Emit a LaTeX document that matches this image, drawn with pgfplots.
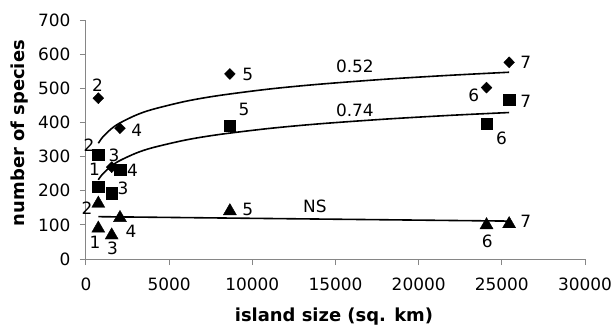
\documentclass[border=0pt]{standalone}
\usepackage{fontspec}
\setmainfont{DejaVu Sans}
\usepackage{pgfplots}
\pgfplotsset{compat=1.18}
\definecolor{axisgray}{RGB}{134,134,134}
\tikzset{lbl/.style={font=\fontsize{17}{20}\selectfont, anchor=center, inner sep=0pt}}
\begin{document}
\begin{tikzpicture}
\path[use as bounding box] (-86bp,-67bp) rectangle (530bp,259bp);
\begin{axis}[
  at={(0,0)}, anchor=south west,
  scale only axis, width=499bp, height=239bp,
  xmin=0, xmax=30000, ymin=0, ymax=700,
  xtick={0,5000,10000,15000,20000,25000,30000},
  ytick={0,100,200,300,400,500,600,700},
  scaled x ticks=false, scaled y ticks=false,
  /pgf/number format/assume math mode=true,
  /pgf/number format/1000 sep={},
  axis x line*=bottom, axis y line*=left,
  axis line style={axisgray, line width=1bp, -},
  tick style={axisgray, line width=1bp},
  tick align=outside, major tick length=6bp,
  tick label style={font=\fontsize{17}{20}\selectfont, black},
  xticklabel style={yshift=-9bp},
  yticklabel style={xshift=-6bp},
  label style={font=\bfseries\fontsize{18}{21}\selectfont},
  xlabel={island size (sq. km)},
  ylabel={number of species},
  xlabel style={at={(axis description cs:0.497,-0.242)}, anchor=center},
  ylabel style={at={(axis description cs:-0.134,0.527)}, anchor=center},
  clip=false,
]
% trend lines
\addplot[black, line width=1.6bp, smooth, no marks] coordinates {
 (740,339) (1000,356.7) (1500,380.5) (2000,397.4) (3000,421.3) (4000,438.2)
 (6000,462) (8000,478.9) (11000,497.7) (14000,511.8) (18000,526.6) (22000,538.4) (25440,547)};
\addplot[black, line width=1.6bp, smooth, no marks] coordinates {
 (740,232) (1000,248.8) (1500,271.3) (2000,287.4) (3000,309.9) (4000,326)
 (6000,348.6) (8000,364.6) (11000,382.3) (14000,395.8) (18000,409.7) (22000,421) (25440,429)};
\addplot[black, line width=1.6bp, no marks] coordinates {(740,124) (25440,111)};
% data
\addplot[only marks, mark=diamond*, mark size=5.5bp, mark options={xscale=1.3, black, fill=black}] coordinates {
 (740,471) (1544,269) (2043,383) (8650,542) (24080,502) (25440,576)};
\addplot[only marks, mark=square*, mark size=5.8bp, mark options={black, fill=black}] coordinates {
 (740,305) (740,212) (1544,193) (2043,261) (8650,390) (24080,396) (25440,466)};
\addplot[only marks, mark=triangle*, mark size=7.5bp, mark options={yshift=-1.9bp, black, fill=black}] coordinates {
 (740,168) (740,95) (1544,75) (2043,126) (8650,146) (24080,105) (25440,108)};
% point labels
\node[lbl] at (axis cs:691,510) {2};
\node[lbl] at (axis cs:3047,378) {4};
\node[lbl] at (axis cs:180,334) {2};
\node[lbl] at (axis cs:1683,305) {3};
\node[lbl] at (axis cs:511,264) {1};
\node[lbl] at (axis cs:2795,259) {4};
\node[lbl] at (axis cs:2224,208) {3};
\node[lbl] at (axis cs:60,148) {2};
\node[lbl] at (axis cs:541,50) {1};
\node[lbl] at (axis cs:1593,31) {3};
\node[lbl] at (axis cs:2705,82) {4};
\node[lbl] at (axis cs:9718,541) {5};
\node[lbl] at (axis cs:9496,438) {5};
\node[lbl] at (axis cs:9718,146) {5};
\node[lbl] at (axis cs:26444,575) {7};
\node[lbl] at (axis cs:23319,480) {6};
\node[lbl] at (axis cs:26444,463) {7};
\node[lbl] at (axis cs:24984,354) {6};
\node[lbl] at (axis cs:24118,51) {6};
\node[lbl] at (axis cs:26444,109) {7};
% fit annotations
\node[lbl] at (axis cs:16167,563) {0.52};
\node[lbl] at (axis cs:16167,436) {0.74};
\node[lbl] at (axis cs:13763,153) {NS};
\end{axis}
\end{tikzpicture}
\end{document}
